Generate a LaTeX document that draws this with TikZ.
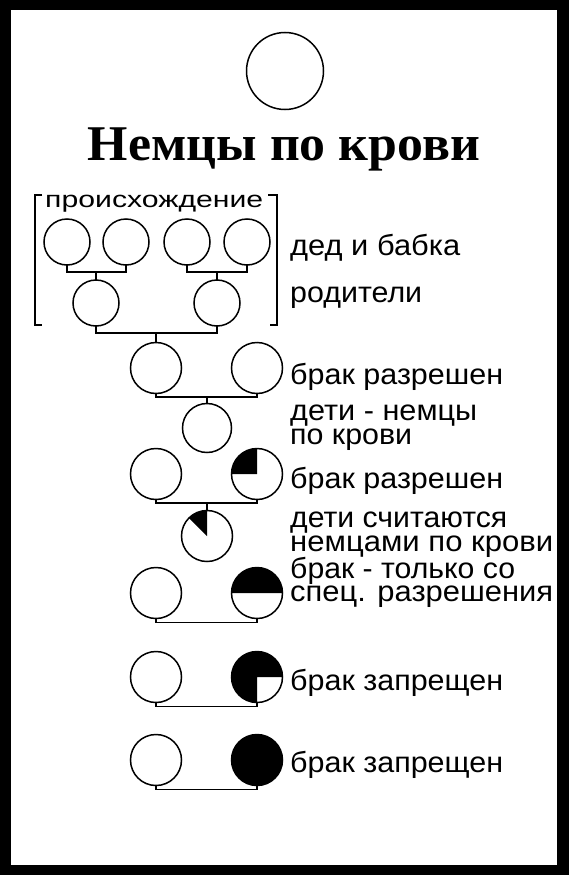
\documentclass[tikz,border=0pt]{standalone}
\usepackage{fontspec}
\usepackage{graphicx}
\setmainfont{Liberation Sans}
\newfontfamily\titleserif{Liberation Serif}
\newcommand{\widen}[2]{\resizebox{#1}{\height}{#2}}
\begin{document}
\begin{tikzpicture}[x=1pt, y=-1pt,
    pers/.style={circle, draw, line width=1.5pt, inner sep=0pt, outer sep=0pt},
    small/.style={pers, minimum size=46pt},
    big/.style={pers, minimum size=51pt},
    bar/.style={line width=1.8pt},
    lbl/.style={anchor=base west, inner sep=0pt, font=\fontsize{29}{34}\selectfont}]
    \fill[black] (0,0) rectangle (569,875);
    \fill[white] (11,10) rectangle (557,865);

    \node[pers, minimum size=77pt] (top) at (285,71) {};
    \node[anchor=base, inner sep=0pt, font=\titleserif\bfseries\fontsize{50}{60}\selectfont] (title) at (284,160) {\widen{392pt}{Немцы по крови}};

    \node[anchor=base west, inner sep=0pt, font=\fontsize{23}{28}\selectfont] (origin) at (45,207) {\widen{218pt}{происхождение}};
    \draw[line width=1.5pt] (42,195) -- (35,195) -- (35,325) -- (42,325);
    \draw[line width=1.5pt] (268,195) -- (277,195) -- (277,325) -- (270,325);

    \node[small] (g1) at (67,242) {};
    \node[small] (g2) at (126,242) {};
    \node[small] (g3) at (187,242) {};
    \node[small] (g4) at (247,242) {};
    \node[small] (p1) at (96,303) {};
    \node[small] (p2) at (217,303) {};
    \coordinate (gl) at (96,272);
    \coordinate (gr) at (217,272);
    \coordinate (pb) at (156,333);
    \draw[bar] (g1.south) |- (gl) -| (g2.south);
    \draw[bar] (gl) -- (p1.north);
    \draw[bar] (g3.south) |- (gr) -| (g4.south);
    \draw[bar] (gr) -- (p2.north);

    \node[big] (a1) at (156,368) {};
    \node[big] (a2) at (257,368) {};
    \draw[bar] (p1.south) |- (pb) -| (p2.south);
    \draw[bar] (pb) -- (a1.north);
    \coordinate (ab) at (207,397);
    \node[pers, minimum size=49pt] (c1) at (207,428) {};
    \draw[bar] (a1.south) |- (ab) -| (a2.south);
    \draw[bar] (ab) -- (c1.north);

    \node[big] (b1) at (156,474) {};
    \node[big] (b2) at (257,474) {};
    \fill (b2.center) -- ++(90:25.5pt) arc[start angle=90, end angle=180, radius=25.5pt] -- cycle;
    \coordinate (bb) at (207,503);
    \node[big] (c2) at (207,536) {};
    \fill (c2.center) -- ++(90:25.5pt) arc[start angle=90, end angle=135, radius=25.5pt] -- cycle;
    \draw[bar] (b1.south) |- (bb) -| (b2.south);
    \draw[bar] (bb) -- (c2.north);

    \node[big] (d1) at (156,593) {};
    \node[big] (d2) at (257,593) {};
    \fill (d2.center) -- ++(0:25.5pt) arc[start angle=0, end angle=180, radius=25.5pt] -- cycle;
    \draw[bar] (d1.south) -- ++(0,4) -| (d2.south);

    \node[big] (e1) at (156,677) {};
    \node[big] (e2) at (257,677) {};
    \fill (e2.center) -- ++(0:25.5pt) arc[start angle=0, end angle=270, radius=25.5pt] -- cycle;
    \draw[bar] (e1.south) -- ++(0,4) -| (e2.south);

    \node[big] (f1) at (156,760) {};
    \node[big, fill=black] (f2) at (257,760) {};
    \draw[bar] (f1.south) -- ++(0,4) -| (f2.south);

    \node[lbl] (l1) at (290,255) {\widen{170pt}{дед и бабка}};
    \node[lbl] (l2) at (290,302) {\widen{132pt}{родители}};
    \node[lbl] (l3) at (290,384.5) {\widen{213pt}{брак разрешен}};
    \node[lbl] (l4) at (290,420.5) {\widen{187pt}{дети - немцы}};
    \node[lbl] (l5) at (290,444.5) {\widen{122pt}{по крови}};
    \node[lbl] (l6) at (290,488) {\widen{213pt}{брак разрешен}};
    \node[lbl] (l7) at (290,527.5) {\widen{217pt}{дети считаются}};
    \node[lbl] (l8) at (290,551) {\widen{263pt}{немцами по крови}};
    \node[lbl] (l9) at (290,578) {\widen{225pt}{брак - только со}};
    \node[lbl] (l10) at (290,601) {\widen{263pt}{спец. разрешения}};
    \node[lbl] (l11) at (290,690.5) {\widen{213pt}{брак запрещен}};
    \node[lbl] (l12) at (290,772.5) {\widen{213pt}{брак запрещен}};
\end{tikzpicture}
\end{document}
